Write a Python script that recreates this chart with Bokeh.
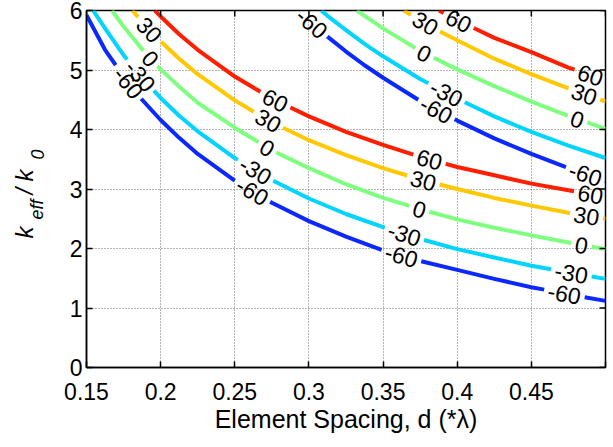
import numpy as np
from bokeh.plotting import figure
from bokeh.layouts import row
from bokeh.models import Range1d, FixedTicker, ColumnDataSource
from bokeh.core.properties import value
from bokeh.embed import file_html
from bokeh.resources import INLINE

# ---------------- data ----------------
levels = ["-60", "-30", "0", "30", "60"]
colors = ["#0a28ff", "#00d4ff", "#7fff7f", "#ffc800", "#ff1e00"]

xticks = [0.15, 0.2, 0.25, 0.3, 0.35, 0.4, 0.45, 0.5]
xtick_labels = ["0.15", "0.2", "0.25", "0.3", "0.35", "0.4", "0.45", ""]
yticks = [0, 1, 2, 3, 4, 5, 6]

# first branch (lower-left family)
a_m60_d = [0.15, 0.1625, 0.175, 0.1875, 0.2, 0.2125, 0.225, 0.25, 0.275, 0.3, 0.325, 0.35, 0.375, 0.4, 0.425, 0.45, 0.475, 0.5]
a_m60_k = [5.92, 5.34, 4.89, 4.50, 4.16, 3.86, 3.59, 3.14, 2.77, 2.46, 2.20, 1.97, 1.79, 1.64, 1.49, 1.35, 1.23, 1.12]
a_m30_d = [0.1545, 0.1625, 0.175, 0.1875, 0.2, 0.2125, 0.225, 0.25, 0.275, 0.3, 0.325, 0.35, 0.375, 0.4, 0.425, 0.45, 0.475, 0.5]
a_m30_k = [6.0, 5.70, 5.25, 4.87, 4.53, 4.23, 3.97, 3.52, 3.15, 2.84, 2.58, 2.36, 2.16, 1.99, 1.85, 1.71, 1.60, 1.49]
a_0_d = [0.1672, 0.175, 0.1875, 0.2, 0.2125, 0.225, 0.25, 0.275, 0.3, 0.325, 0.35, 0.375, 0.4, 0.425, 0.45, 0.475, 0.5]
a_0_k = [6.0, 5.73, 5.35, 5.01, 4.72, 4.45, 4.03, 3.65, 3.35, 3.08, 2.85, 2.66, 2.49, 2.35, 2.22, 2.10, 1.99]
a_30_d = [0.181, 0.1875, 0.2, 0.2125, 0.225, 0.25, 0.275, 0.3, 0.325, 0.35, 0.375, 0.4, 0.425, 0.45, 0.475, 0.5]
a_30_k = [6.0, 5.81, 5.48, 5.19, 4.93, 4.49, 4.12, 3.82, 3.57, 3.35, 3.16, 3.00, 2.85, 2.72, 2.60, 2.50]
a_60_d = [0.1961, 0.2, 0.2125, 0.225, 0.25, 0.275, 0.3, 0.325, 0.35, 0.375, 0.4, 0.425, 0.45, 0.475, 0.5]
a_60_k = [6.0, 5.90, 5.60, 5.34, 4.89, 4.52, 4.22, 3.96, 3.74, 3.54, 3.37, 3.23, 3.09, 2.98, 2.87]

# second branch (upper-right family)
b_m60_d = [0.2926, 0.3, 0.3125, 0.325, 0.3375, 0.35, 0.375, 0.4, 0.425, 0.45, 0.475, 0.5]
b_m60_k = [6.0, 5.83, 5.56, 5.31, 5.08, 4.87, 4.48, 4.15, 3.85, 3.59, 3.35, 3.14]
b_m30_d = [0.3083, 0.3125, 0.325, 0.3375, 0.35, 0.375, 0.4, 0.425, 0.45, 0.475, 0.5]
b_m30_k = [6.0, 5.91, 5.67, 5.44, 5.23, 4.85, 4.52, 4.22, 3.96, 3.73, 3.52]
b_0_d = [0.3323, 0.3375, 0.35, 0.3625, 0.375, 0.4, 0.425, 0.45, 0.475, 0.5]
b_0_k = [6.0, 5.91, 5.70, 5.51, 5.32, 5.01, 4.73, 4.47, 4.23, 4.01]
b_30_d = [0.364, 0.375, 0.3875, 0.4, 0.425, 0.45, 0.475, 0.5]
b_30_k = [6.0, 5.84, 5.66, 5.50, 5.19, 4.93, 4.69, 4.47]
b_60_d = [0.3877, 0.4, 0.425, 0.45, 0.475, 0.5]
b_60_k = [6.0, 5.84, 5.54, 5.30, 5.04, 4.83]

# positions (d) of the inline contour labels on each curve
a_m60_lab = [0.1783, 0.2619, 0.3624, 0.4723]
a_m30_lab = [0.1864, 0.2640, 0.3644, 0.4770]
a_0_lab = [0.1932, 0.2720, 0.3745, 0.4838]
a_30_lab = [0.1925, 0.2727, 0.3772, 0.4872]
a_60_lab = [0.2774, 0.3813, 0.4899]
b_m60_lab = [0.302, 0.3860, 0.4865]
b_m30_lab = [0.3928]
b_0_lab = [0.3779, 0.4811]
b_30_lab = [0.3786, 0.4858]
b_60_lab = [0.401, 0.4899]

curves = [
    (a_m60_d, a_m60_k, 0, a_m60_lab), (a_m30_d, a_m30_k, 1, a_m30_lab),
    (a_0_d, a_0_k, 2, a_0_lab), (a_30_d, a_30_k, 3, a_30_lab),
    (a_60_d, a_60_k, 4, a_60_lab),
    (b_m60_d, b_m60_k, 0, b_m60_lab), (b_m30_d, b_m30_k, 1, b_m30_lab),
    (b_0_d, b_0_k, 2, b_0_lab), (b_30_d, b_30_k, 3, b_30_lab),
    (b_60_d, b_60_k, 4, b_60_lab),
]

# ---------------- layout ----------------
XMIN, XMAX, YMIN, YMAX = 0.15, 0.5, 0.0, 6.0
LW = 56                     # width of the y-label strip
W, H = 554, 445
BL, BR, BT, BB = 30, 5, 10, 78
FRAME_W = W - BL - BR
FRAME_H = H - BT - BB
FRAME_BOTTOM = BT + FRAME_H   # page y of the frame bottom
PX_X = FRAME_W / (XMAX - XMIN)
PX_Y = FRAME_H / (YMAX - YMIN)
FS = 23
PAD = 4
TICK = 6
FONT = "Liberation Sans"

p = figure(width=W, height=H, x_range=Range1d(XMIN, XMAX), y_range=Range1d(YMIN, YMAX),
           output_backend="svg", toolbar_location=None,
           min_border_left=BL, min_border_right=BR, min_border_top=BT, min_border_bottom=BB)
p.background_fill_color = "white"
p.border_fill_color = "white"
p.outline_line_color = "black"
p.outline_line_width = 1.5


def text_len(s, fs):
    return sum(0.333 if c == "-" else 0.556 for c in s) * fs


lab_x, lab_y, lab_t, lab_a = [], [], [], []
for d, k, lev, lds in curves:
    d = np.asarray(d, float)
    k = np.asarray(k, float)
    txt = levels[lev]
    gaps = []
    for ld in lds:
        lk = float(np.interp(ld, d, k))
        e = 0.004
        s = (np.interp(ld + e, d, k) - np.interp(ld - e, d, k)) / (2 * e)
        theta = float(np.arctan(s * PX_Y / PX_X))
        half = (text_len(txt, FS) / 2 + PAD) * np.cos(theta) / PX_X
        gaps.append((ld - half, ld + half))
        lab_x.append(ld)
        lab_y.append(lk)
        lab_t.append(txt)
        lab_a.append(theta)
    starts = [g[0] for g in gaps]
    pts = sorted(set(d.tolist() + [g for gp in gaps for g in gp]))
    xs, ys = [], []
    for x in pts:
        if x < d[0] - 1e-12 or x > d[-1] + 1e-12:
            continue
        if any(a + 1e-12 < x < b - 1e-12 for a, b in gaps):
            continue
        xs.append(x)
        ys.append(float(np.interp(x, d, k)))
        if any(abs(x - a) < 1e-12 for a in starts):
            xs.append(np.nan)
            ys.append(np.nan)
    p.line(xs, ys, line_width=4, line_color=colors[lev], line_join="round")

src = ColumnDataSource(dict(x=lab_x, y=lab_y, t=lab_t, a=lab_a))
p.text(x="x", y="y", text="t", angle="a", source=src, text_align="center",
       text_baseline="middle", text_font=value(FONT), text_font_size=f"{FS}px",
       text_color="black")

# ---------------- axes ----------------
xticker = FixedTicker(ticks=xticks)
yticker = FixedTicker(ticks=yticks)
xa = p.below[0]
ya = p.left[0]
xa.ticker = xticker
ya.ticker = yticker
xa.major_label_overrides = {t: l for t, l in zip(xticks, xtick_labels)}
for ax in (xa, ya):
    ax.major_tick_in = TICK
    ax.major_tick_out = 0
    ax.minor_tick_line_color = None
    ax.axis_line_width = 1.5
    ax.major_tick_line_width = 1.5
    ax.major_label_text_font = FONT
    ax.major_label_text_font_size = "23px"
    ax.major_label_text_color = "black"
xa.major_label_standoff = 15
ya.major_label_standoff = 4
xa.axis_label = "Element Spacing, d (*\u03bb)"
xa.axis_label_text_font = FONT
xa.axis_label_text_font_size = "25px"
xa.axis_label_text_font_style = "normal"
xa.axis_label_text_color = "black"
xa.axis_label_standoff = 2

# inward ticks on the top and right edges of the box
p.segment(x0=xticks, y0=[YMAX] * len(xticks), x1=xticks,
          y1=[YMAX - TICK / PX_Y] * len(xticks), line_color="black", line_width=1.5)
p.segment(x0=[XMAX] * len(yticks), y0=yticks, x1=[XMAX - TICK / PX_X] * len(yticks),
          y1=yticks, line_color="black", line_width=1.5)

for g in (p.xgrid[0], p.ygrid[0]):
    g.grid_line_color = "#6a6a6a"
    g.grid_line_dash = "1 2"
    g.grid_line_width = 1
p.xgrid[0].ticker = xticker
p.ygrid[0].ticker = yticker

# ---------------- y-axis label strip:  k_eff / k_0 ----------------
# (row layouts align plot frames, so this strip's frame spans the same rows as the main frame;
#  its y range is in pixels measured up from the frame bottom)
lab = figure(width=LW, height=H, x_range=Range1d(0, LW), y_range=Range1d(0, FRAME_H),
             output_backend="svg", toolbar_location=None, x_axis_type=None, y_axis_type=None,
             min_border_left=0, min_border_right=0, min_border_top=BT, min_border_bottom=BB)
lab.outline_line_color = None
lab.grid.visible = False
lab.background_fill_color = "white"
lab.border_fill_color = "white"
yl_text = ["k", "eff", "/", "k", "0"]
yl_size = ["24px", "18px", "24px", "24px", "18px"]
yl_mid = [23.7, 36.8, 23.7, 23.7, 36.8]      # x of the text middle line, pixels
yl_start = [238, 219, 194, 181, 159]         # start y from the top of the page, pixels
lab.text(x=yl_mid, y=[FRAME_BOTTOM - s for s in yl_start], text=yl_text, angle=np.pi / 2,
         text_font_size=yl_size, text_font=value(FONT), text_font_style="italic",
         text_align="left", text_baseline="middle", text_color="black")

layout = row(lab, p, spacing=0)
open("out.html", "w").write(file_html(layout, INLINE))
